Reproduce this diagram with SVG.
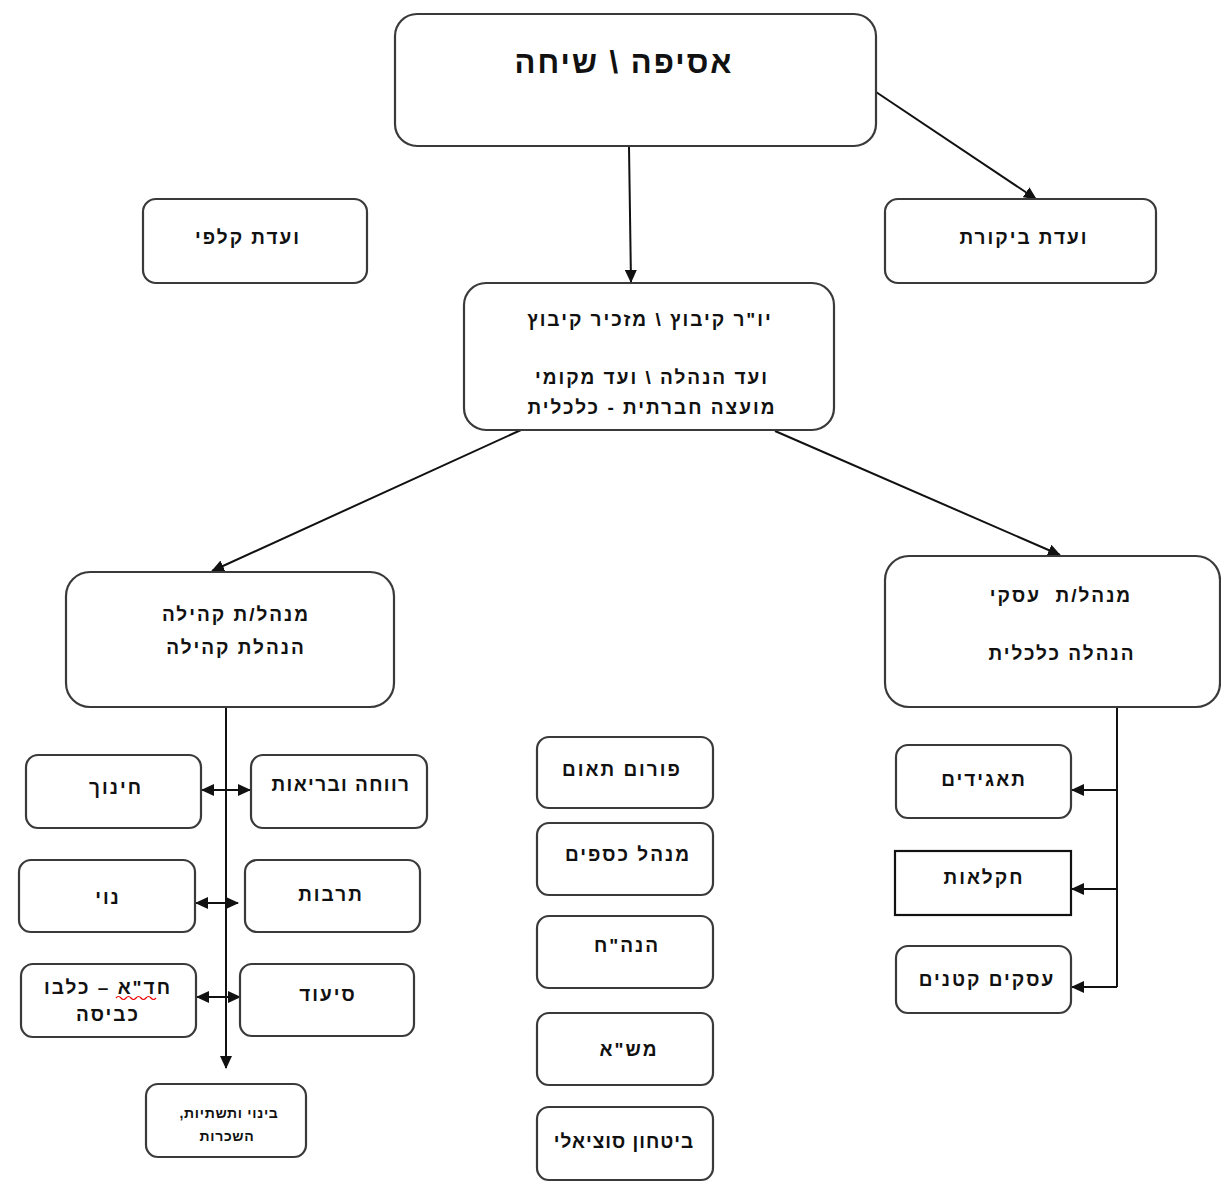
<svg xmlns="http://www.w3.org/2000/svg" width="1221" height="1182" viewBox="0 0 1221 1182">
<style>
.box{fill:#fff;stroke:#3a3a3a;stroke-width:2.2}
.t{font-family:"Liberation Sans","DejaVu Sans",sans-serif;font-weight:bold;font-size:19px;letter-spacing:2px;fill:#111;text-anchor:middle;direction:rtl}
.s{font-size:14px;letter-spacing:0.7px}
.big{font-size:31px;letter-spacing:2px}
.c{fill:none;stroke:#111;stroke-width:2}
</style>
<defs>
<marker id="ah" markerUnits="userSpaceOnUse" markerWidth="14" markerHeight="12" refX="12" refY="6" orient="auto-start-reverse">
<path d="M0,0 L13,6 L0,12 Z" fill="#111"/>
</marker>
</defs>
<rect width="1221" height="1182" fill="#fff"/>
<g id="connectors">
<line class="c" x1="629" y1="147" x2="631" y2="282" marker-end="url(#ah)"/>
<line class="c" x1="876" y1="92" x2="1036" y2="199" marker-end="url(#ah)"/>
<line class="c" x1="521" y1="430" x2="212" y2="571" marker-end="url(#ah)"/>
<line class="c" x1="775" y1="431" x2="1060" y2="555" marker-end="url(#ah)"/>
<line class="c" x1="226" y1="708" x2="226" y2="1068" marker-end="url(#ah)"/>
<line class="c" x1="202" y1="790" x2="250" y2="790" marker-start="url(#ah)" marker-end="url(#ah)"/>
<line class="c" x1="196" y1="903" x2="238" y2="903" marker-start="url(#ah)" marker-end="url(#ah)"/>
<line class="c" x1="197" y1="997" x2="240" y2="997" marker-start="url(#ah)" marker-end="url(#ah)"/>
<polyline class="c" points="1117,708 1117,987"/>
<line class="c" x1="1117" y1="790" x2="1072" y2="790" marker-end="url(#ah)"/>
<line class="c" x1="1117" y1="889" x2="1072" y2="889" marker-end="url(#ah)"/>
<line class="c" x1="1117" y1="987" x2="1072" y2="987" marker-end="url(#ah)"/>
</g>
<g id="n-asefa"><rect class="box" x="395" y="14" width="481" height="132" rx="22"/><text class="t big" x="624" y="73">אסיפה \ שיחה</text></g>
<g id="n-kalfi"><rect class="box" x="143" y="199" width="224" height="84" rx="13"/><text class="t" x="248" y="244">ועדת קלפי</text></g>
<g id="n-bikoret"><rect class="box" x="885" y="199" width="271" height="84" rx="13"/><text class="t" x="1024" y="244">ועדת ביקורת</text></g>
<g id="n-yor"><rect class="box" x="464" y="283" width="370" height="147" rx="22"/>
<text class="t" x="650" y="326">יו"ר קיבוץ \ מזכיר קיבוץ</text>
<text class="t" x="652" y="384">ועד הנהלה \ ועד מקומי</text>
<text class="t" x="652" y="414">מועצה חברתית - כלכלית</text></g>
<g id="n-kehila"><rect class="box" x="66" y="572" width="328" height="135" rx="24"/>
<text class="t" x="236" y="621">מנהל/ת קהילה</text>
<text class="t" x="236" y="654">הנהלת קהילה</text></g>
<g id="n-iski"><rect class="box" x="885" y="556" width="335" height="151" rx="24"/>
<text class="t" x="1061" y="602" style="white-space:pre">מנהל/ת  עסקי</text>
<text class="t" x="1062" y="660">הנהלה כלכלית</text></g>
<g id="n-hinuch"><rect class="box" x="26" y="755" width="175" height="73" rx="12"/><text class="t" x="116" y="794">חינוך</text></g>
<g id="n-revacha"><rect class="box" x="251" y="755" width="176" height="73" rx="12"/><text class="t" x="341" y="791" style="letter-spacing:1.4px">רווחה ובריאות</text></g>
<g id="n-noi"><rect class="box" x="19" y="860" width="176" height="72" rx="12"/><text class="t" x="108" y="904">נוי</text></g>
<g id="n-tarbut"><rect class="box" x="245" y="860" width="175" height="72" rx="12"/><text class="t" x="331" y="901">תרבות</text></g>
<g id="n-hada"><rect class="box" x="21" y="964" width="175" height="73" rx="12"/>
<text class="t" x="108" y="994">חד"א – כלבו</text>
<text class="t" x="108" y="1021">כביסה</text>
<path d="M116,998 q2.5,-3 5,0 t5,0 t5,0 t5,0 t5,0 t5,0 t5,0 t5,0" fill="none" stroke="#e00" stroke-width="1.2"/></g>
<g id="n-siud"><rect class="box" x="240" y="964" width="174" height="72" rx="12"/><text class="t" x="328" y="1001">סיעוד</text></g>
<g id="n-binui"><rect class="box" x="146" y="1084" width="160" height="73" rx="12"/>
<text class="t s" x="229" y="1118">בינוי ותשתיות,</text>
<text class="t s" x="227" y="1141">השכרות</text></g>
<g id="n-forum"><rect class="box" x="537" y="737" width="176" height="71" rx="12"/><text class="t" x="622" y="776">פורום תאום</text></g>
<g id="n-ksafim"><rect class="box" x="537" y="823" width="176" height="72" rx="12"/><text class="t" x="628" y="861">מנהל כספים</text></g>
<g id="n-hanhach"><rect class="box" x="537" y="916" width="176" height="72" rx="12"/><text class="t" x="627" y="952">הנה"ח</text></g>
<g id="n-mesha"><rect class="box" x="537" y="1013" width="176" height="72" rx="12"/><text class="t" x="629" y="1056">מש"א</text></g>
<g id="n-bitachon"><rect class="box" x="537" y="1107" width="176" height="73" rx="12"/><text class="t" x="624" y="1148" style="letter-spacing:1px">ביטחון סוציאלי</text></g>
<g id="n-taagidim"><rect class="box" x="896" y="745" width="175" height="73" rx="12"/><text class="t" x="984" y="786">תאגידים</text></g>
<g id="n-haklaut"><rect class="box" x="895" y="851" width="176" height="64" rx="0" style="stroke:#111"/><text class="t" x="984" y="884">חקלאות</text></g>
<g id="n-asakim"><rect class="box" x="896" y="946" width="175" height="67" rx="12"/><text class="t" x="987" y="986">עסקים קטנים</text></g>
</svg>
